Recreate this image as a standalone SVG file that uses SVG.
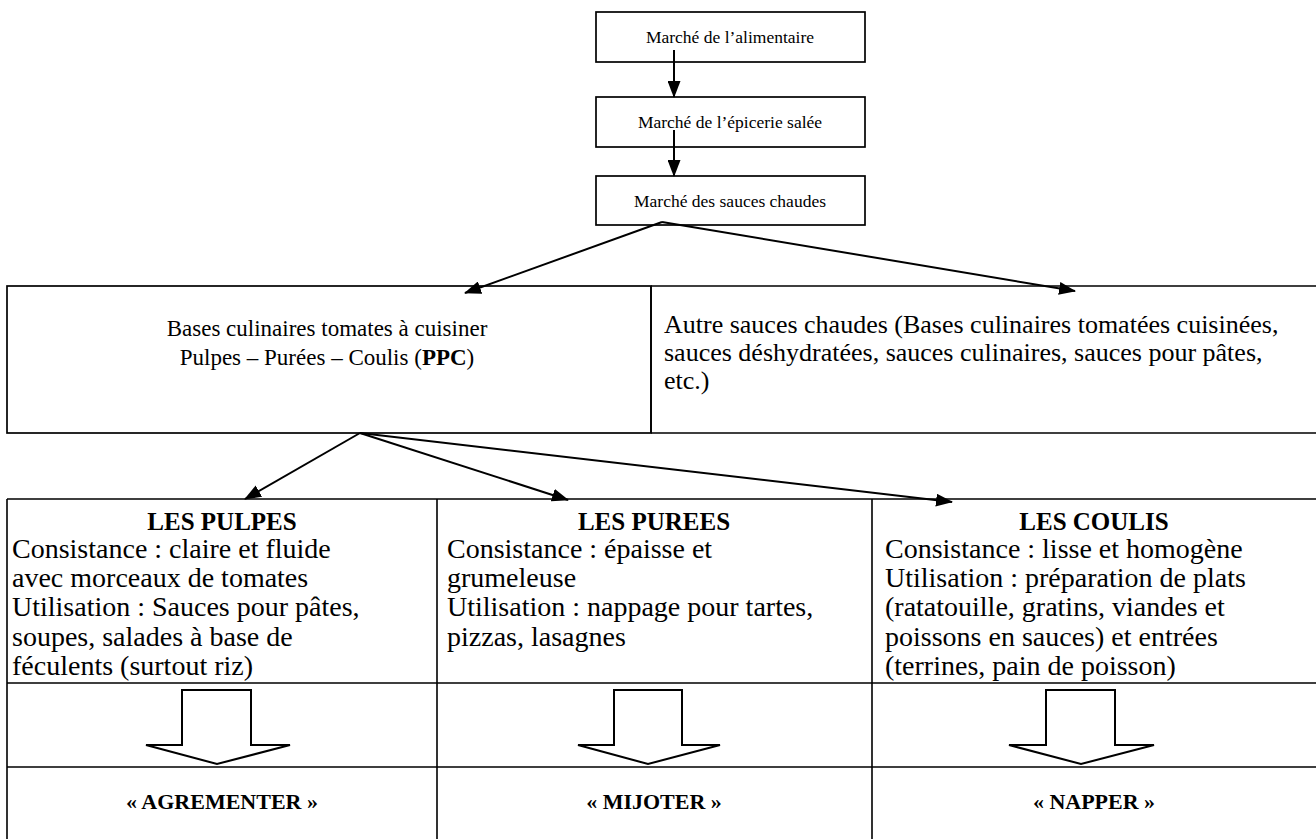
<svg xmlns="http://www.w3.org/2000/svg" width="1316" height="839" viewBox="0 0 1316 839">
<style>
.t{font-family:"Liberation Serif","Times New Roman",serif;fill:#000}
.box{fill:#fff;stroke:#000;stroke-width:1.7}
.ln{stroke:#000;stroke-width:1.6;fill:none}
.cn{stroke:#000;stroke-width:2;fill:none}
.big{fill:#fff;stroke:#000;stroke-width:2;stroke-linejoin:miter}
.s17{font-size:17.5px}
.s23{font-size:23px}
.s26{font-size:26px}
.s28{font-size:28px}
.hb{font-size:25px;font-weight:bold}
.fb{font-size:22px;font-weight:bold}
</style>
<defs>
<marker id="ah" markerUnits="userSpaceOnUse" markerWidth="17" markerHeight="13" refX="16" refY="6.5" orient="auto">
<path d="M0,0 L17,6.5 L0,13 Z" fill="#000"/>
</marker>
</defs>
<rect width="1316" height="839" fill="#fff"/>

<g id="n-alimentaire">
<rect class="box" x="596" y="12" width="269" height="50"/>
<text class="t s17" x="730" y="43" text-anchor="middle">Marché de l’alimentaire</text>
</g>
<g id="n-epicerie">
<rect class="box" x="596" y="97" width="269" height="50"/>
<text class="t s17" x="730" y="128" text-anchor="middle">Marché de l’épicerie salée</text>
</g>
<g id="n-sauces">
<rect class="box" x="596" y="176" width="269" height="49"/>
<text class="t s17" x="730" y="207" text-anchor="middle">Marché des sauces chaudes</text>
</g>

<g id="n-ppc">
<rect class="box" x="7" y="286" width="644" height="147"/>
<text class="t s23" x="327" y="336" text-anchor="middle">Bases culinaires tomates à cuisiner</text>
<text class="t s23" x="327" y="365" text-anchor="middle">Pulpes – Purées – Coulis (<tspan font-weight="bold">PPC</tspan>)</text>
</g>
<g id="n-autres">
<path class="ln" d="M651,286 H1316 M651,433 H1316 M651,286 V433"/>
<text class="t s26" x="664" y="333">Autre sauces chaudes (Bases culinaires tomatées cuisinées,</text>
<text class="t s26" x="664" y="361">sauces déshydratées, sauces culinaires, sauces pour pâtes,</text>
<text class="t s26" x="664" y="389">etc.)</text>
</g>

<g id="grid">
<path class="ln" d="M7,499 H1316 M7,683 H1316 M7,767 H1316 M7,499 V839 M437,499 V839 M872,499 V839"/>
</g>

<g id="n-pulpes">
<text class="t hb" x="222" y="530" text-anchor="middle">LES PULPES</text>
<text class="t s28" x="12" y="558">Consistance : claire et fluide</text>
<text class="t s28" x="12" y="587">avec morceaux de tomates</text>
<text class="t s28" x="12" y="616">Utilisation : Sauces pour pâtes,</text>
<text class="t s28" x="12" y="646">soupes, salades à base de</text>
<text class="t s28" x="12" y="675">féculents (surtout riz)</text>
</g>
<g id="n-purees">
<text class="t hb" x="654" y="530" text-anchor="middle">LES PUREES</text>
<text class="t s28" x="447" y="558">Consistance : épaisse et</text>
<text class="t s28" x="447" y="587">grumeleuse</text>
<text class="t s28" x="447" y="616">Utilisation : nappage pour tartes,</text>
<text class="t s28" x="447" y="646">pizzas, lasagnes</text>
</g>
<g id="n-coulis">
<text class="t hb" x="1094" y="530" text-anchor="middle">LES COULIS</text>
<text class="t s28" x="885" y="558">Consistance : lisse et homogène</text>
<text class="t s28" x="885" y="587">Utilisation : préparation de plats</text>
<text class="t s28" x="885" y="616">(ratatouille, gratins, viandes et</text>
<text class="t s28" x="885" y="646">poissons en sauces) et entrées</text>
<text class="t s28" x="885" y="675">(terrines, pain de poisson)</text>
</g>

<g id="n-agrementer">
<path class="big" d="M182,690 H251 V745 H290 L217,764 L146,745 H182 Z"/>
<text class="t fb" x="222" y="809" text-anchor="middle">« AGREMENTER »</text>
</g>
<g id="n-mijoter">
<path class="big" d="M614,690 H682 V745 H720 L648,764 L578,745 H614 Z"/>
<text class="t fb" x="654" y="809" text-anchor="middle">« MIJOTER »</text>
</g>
<g id="n-napper">
<path class="big" d="M1046,690 H1115 V745 H1154 L1081,764 L1009,745 H1046 Z"/>
<text class="t fb" x="1094" y="809" text-anchor="middle">« NAPPER »</text>
</g>

<g id="connectors">
<line class="cn" x1="674" y1="50" x2="674" y2="97" marker-end="url(#ah)"/>
<line class="cn" x1="674" y1="130" x2="674" y2="176" marker-end="url(#ah)"/>
<line class="cn" x1="662" y1="222" x2="465" y2="293" marker-end="url(#ah)"/>
<line class="cn" x1="662" y1="222" x2="1075" y2="291" marker-end="url(#ah)"/>
<line class="cn" x1="360" y1="433" x2="245" y2="499" marker-end="url(#ah)"/>
<line class="cn" x1="360" y1="433" x2="568" y2="500" marker-end="url(#ah)"/>
<line class="cn" x1="360" y1="433" x2="952" y2="502" marker-end="url(#ah)"/>
</g>
</svg>
